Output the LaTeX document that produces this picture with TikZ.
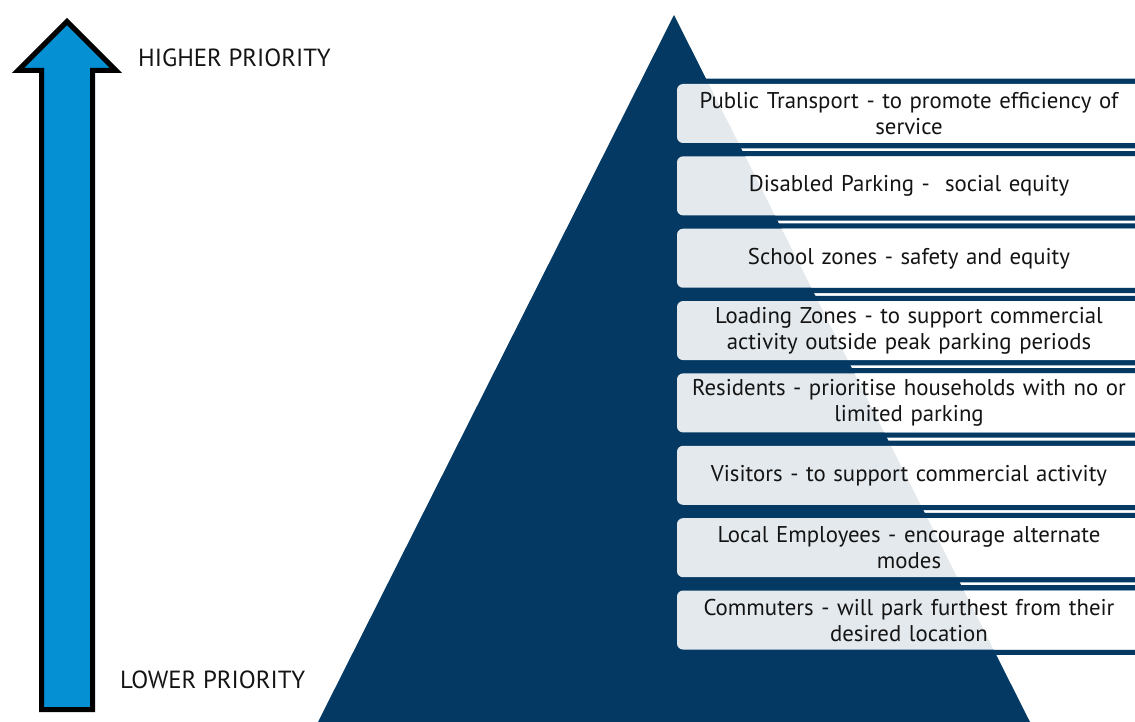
\documentclass[tikz,border=0pt]{standalone}
\usepackage{fontspec}
\setmainfont{PT Sans}
\definecolor{navy}{HTML}{033963}
\definecolor{arrowblue}{HTML}{0490D2}
\definecolor{ink}{HTML}{141414}
\begin{document}
\begin{tikzpicture}[x=1pt,y=-1pt,
  tierbox/.style={rounded corners=6pt, fill=white, fill opacity=0.89, text opacity=1,
    minimum width=464pt, minimum height=59pt, inner sep=0pt, text=ink,
    font=\fontsize{22.8}{26}\selectfont, align=center, text width=455pt},
  prio/.style={anchor=base west, inner sep=0pt, text=ink, font=\fontsize{24.8}{28}\selectfont}]
\useasboundingbox (0,0) rectangle (1135,722);
\begin{scope}
\clip (0,0) rectangle (1135,722);
\fill[white] (0,0) rectangle (1135,722);
% pyramid
\fill[navy] (674,15) -- (1030,722) -- (318,722) -- cycle;
% navy frames round the tiers, open where each tier sits
\foreach \i in {0,...,7}{
  \pgfmathsetmacro{\c}{113.5+72.36*\i}
  \fill[navy, even odd rule] (672,\c-34.8) rectangle (1145,\c+34.8)
    [rounded corners=6pt] (677,\c-29.5) rectangle (1141,\c+29.5);
}
% tiers, from top to bottom
\node[tierbox] (t1) at (909,113.5) {Public Transport - to promote efficiency of\\service};
\node[tierbox] (t2) at (909,185.86) {Disabled Parking -\ \ social equity};
\node[tierbox] (t3) at (909,258.22) {School zones - safety and equity};
\node[tierbox] (t4) at (909,330.58) {Loading Zones - to support commercial\\activity outside peak parking periods};
\node[tierbox] (t5) at (909,402.94) {Residents - prioritise households with no or\\limited parking};
\node[tierbox] (t6) at (909,475.3) {Visitors - to support commercial activity};
\node[tierbox] (t7) at (909,547.66) {Local Employees - encourage alternate\\modes};
\node[tierbox] (t8) at (909,620.02) {Commuters - will park furthest from their\\desired location};
\end{scope}
% priority arrow
\draw[line width=5pt, line join=miter, fill=arrowblue]
  (67,21.5) -- (116,70.5) -- (92.5,70.5) -- (92.5,709.5) -- (41.5,709.5)
  -- (41.5,70.5) -- (18,70.5) -- cycle;
\node[prio] (hi) at (138,66.7) {HIGHER PRIORITY};
\node[prio] (lo) at (120,688.3) {LOWER PRIORITY};
\end{tikzpicture}
\end{document}
